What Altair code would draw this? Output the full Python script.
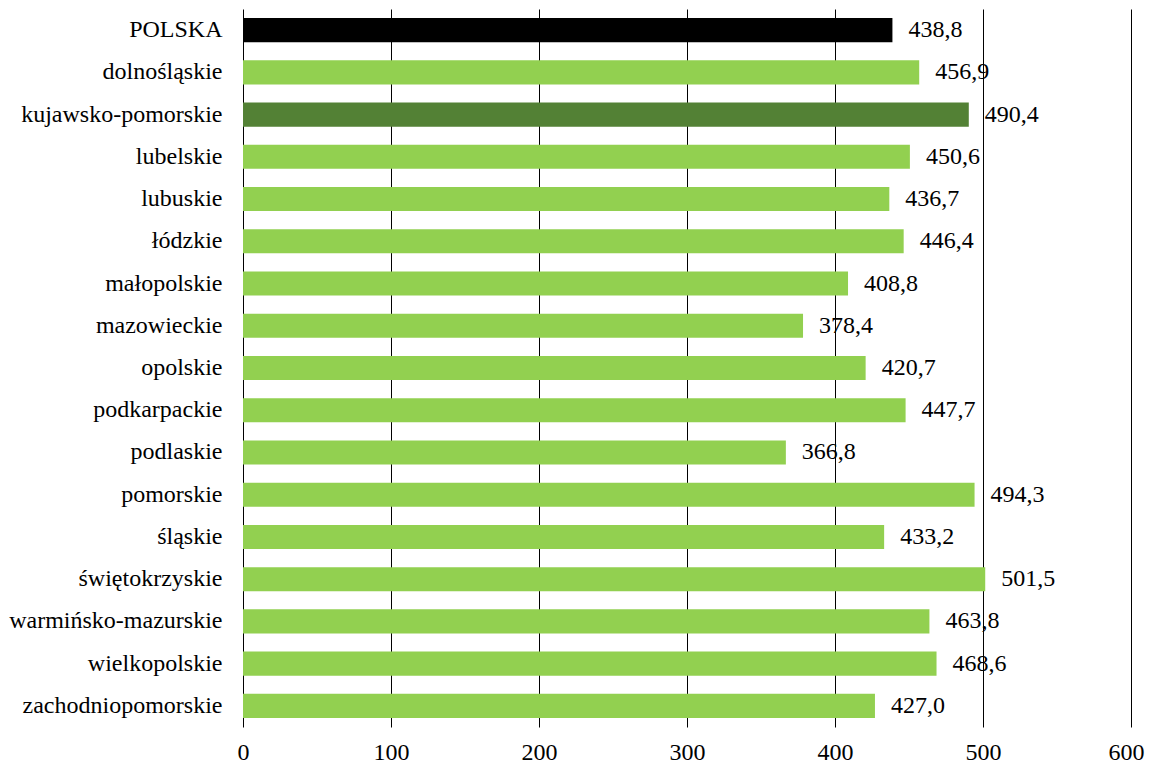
import altair as alt
import pandas as pd

regions = ["POLSKA", "dolnośląskie", "kujawsko-pomorskie", "lubelskie", "lubuskie",
           "łódzkie", "małopolskie", "mazowieckie", "opolskie", "podkarpackie",
           "podlaskie", "pomorskie", "śląskie", "świętokrzyskie",
           "warmińsko-mazurskie", "wielkopolskie", "zachodniopomorskie"]
values = [438.8, 456.9, 490.4, 450.6, 436.7, 446.4, 408.8, 378.4, 420.7,
          447.7, 366.8, 494.3, 433.2, 501.5, 463.8, 468.6, 427.0]
groups = ["country", "region", "highlight"] + ["region"] * 14
x_ticks = [0, 100, 200, 300, 400, 500, 600]

df = pd.DataFrame({
    "region": regions,
    "value": values,
    "group": groups,
    "label": [f"{v:.1f}".replace(".", ",") for v in values],
})

FONT = "Liberation Serif"
FS = 24

y_enc = alt.Y("region:N", sort=regions, title=None,
              scale=alt.Scale(paddingInner=0.43, paddingOuter=0.215),
              axis=alt.Axis(domain=False, ticks=False, labelPadding=21,
                            labelFont=FONT, labelFontSize=FS, labelColor="black",
                            labelLimit=400))
x_enc = alt.X("value:Q", title=None,
              scale=alt.Scale(domain=[0, 600], nice=False),
              axis=alt.Axis(values=x_ticks, domain=False,
                            ticks=False, grid=True, gridColor="black", gridWidth=1,
                            gridOpacity=1, labelPadding=13, labelFont=FONT,
                            labelFontSize=FS, labelColor="black",
                            labelFlush=False,
                            labelOffset=alt.condition("datum.value == 600",
                                                      alt.value(-5), alt.value(0))))

bars = alt.Chart(df).mark_bar().encode(
    y=y_enc,
    x=x_enc,
    color=alt.Color("group:N", legend=None,
                    scale=alt.Scale(domain=["country", "region", "highlight"],
                                    range=["#000000", "#92D050", "#538135"])),
)

text = alt.Chart(df).mark_text(align="left", baseline="middle", dx=16,
                               font=FONT, fontSize=FS, color="black").encode(
    y=alt.Y("region:N", sort=regions),
    x=alt.X("value:Q"),
    text="label:N",
)

chart = (bars + text).properties(
    width=888, height=718,
    autosize=alt.AutoSizeParams(type="none"),
    padding={"left": 235, "top": 1, "right": 14, "bottom": 37},
).configure_view(stroke=None)

chart.save("out.html", embed_options={"renderer": "svg", "actions": False})
